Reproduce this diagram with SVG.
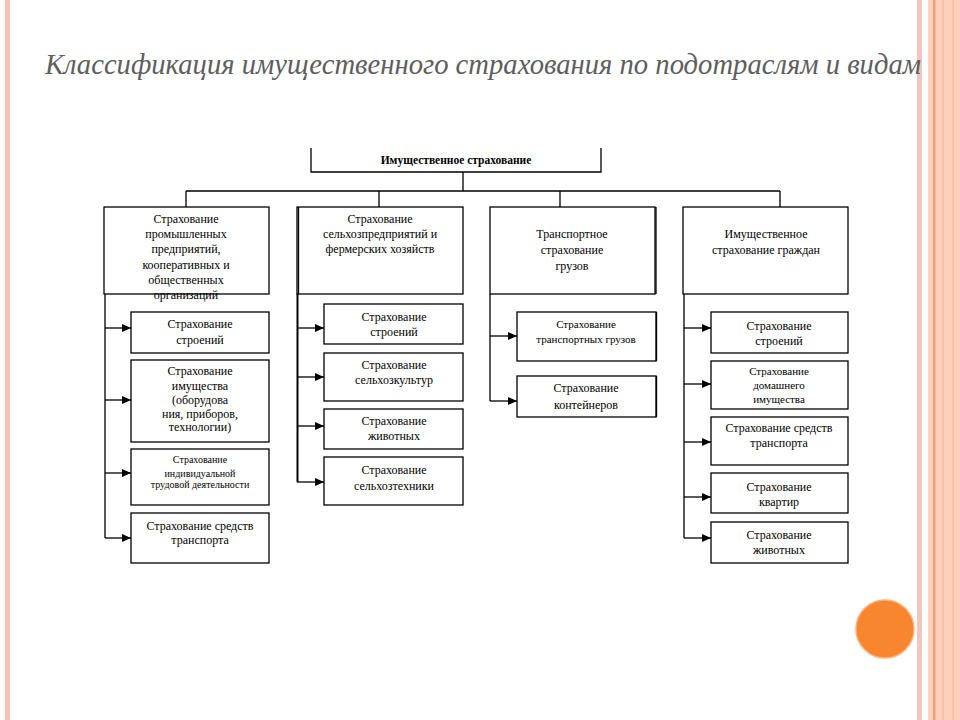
<svg xmlns="http://www.w3.org/2000/svg" width="960" height="720" viewBox="0 0 960 720">
<defs>
<marker id="ah" markerWidth="9" markerHeight="8" refX="9" refY="4" orient="auto" markerUnits="userSpaceOnUse">
<path d="M0,0 L9,4 L0,8 Z" fill="#000"/>
</marker>
<style>
.bx{fill:#fff;stroke:#000;stroke-width:1.3}
.ln{fill:none;stroke:#000;stroke-width:1.3}
.ar{fill:none;stroke:#000;stroke-width:1.3;marker-end:url(#ah)}
.t{font-family:"Liberation Serif","Times New Roman",serif;font-size:12px;fill:#000;text-anchor:middle}
.s{font-size:10px}
.b{font-weight:bold;font-size:11.5px}
.title{font-family:"Liberation Serif","Times New Roman",serif;font-style:italic;font-size:29px;fill:#5e5e5e}
</style>
</defs>
<rect width="960" height="720" fill="#fff"/>
<rect x="5" y="0" width="5" height="720" fill="#f4c3b6"/>
<rect x="917" y="0" width="5" height="720" fill="#f2c6bd"/>
<rect x="928" y="0" width="32" height="720" fill="#fdd0bb"/>
<rect x="933" y="0" width="2.5" height="720" fill="#eda07f"/>
<rect x="942.5" y="0" width="1.2" height="720" fill="#f6b79d"/>
<rect x="952.5" y="0" width="1.2" height="720" fill="#f6b79d"/>
<circle cx="885" cy="629" r="29" fill="#f7862f" stroke="#fbb27c" stroke-width="1.5"/>
<text class="title" x="45" y="74" textLength="876" lengthAdjust="spacingAndGlyphs">Классификация имущественного страхования по подотраслям и видам</text>

<g id="connectors">
<path class="ln" d="M463,172 V191 M186,191 H780 M186,191 V207 M379,191 V207 M560,191 V207 M780,191 V207"/>
<path class="ln" d="M105,294 V538"/>
<path class="ln" d="M297.5,294 V482" style="stroke-width:2"/>
<path class="ln" d="M490,294 V401"/>
<path class="ln" d="M684,294 V538"/>
<path class="ar" d="M105,328 H131"/>
<path class="ar" d="M105,400 H131"/>
<path class="ar" d="M105,473 H131"/>
<path class="ar" d="M105,538 H131"/>
<path class="ar" d="M297,328 H324"/>
<path class="ar" d="M297,377 H324"/>
<path class="ar" d="M297,426 H324"/>
<path class="ar" d="M297,482 H324"/>
<path class="ar" d="M490,336 H517"/>
<path class="ar" d="M490,401 H517"/>
<path class="ar" d="M684,328 H711"/>
<path class="ar" d="M684,384 H711"/>
<path class="ar" d="M684,442 H711"/>
<path class="ar" d="M684,497 H711"/>
<path class="ar" d="M684,538 H711"/>
</g>

<g id="root">
<rect x="311" y="148" width="290" height="24" fill="#fff"/>
<path class="ln" d="M311,148 V172 H601 V148"/>
<text class="t b" x="456" y="164">Имущественное страхование</text>
</g>

<g id="c1">
<rect class="bx" x="104" y="207" width="165" height="87"/>
<text class="t"><tspan x="186" y="223">Страхование</tspan><tspan x="186" y="238">промышленных</tspan><tspan x="186" y="253">предприятий,</tspan><tspan x="186" y="269">кооперативных и</tspan><tspan x="186" y="284">общественных</tspan><tspan x="186" y="299">организаций</tspan></text>
</g>
<g id="c2">
<rect class="bx" x="297" y="207" width="166" height="87"/>
<path class="ln" d="M298.5,207 V294" />
<text class="t"><tspan x="380" y="223">Страхование</tspan><tspan x="380" y="238">сельхозпредприятий и</tspan><tspan x="380" y="253">фермерских хозяйств</tspan></text>
</g>
<g id="c3">
<rect class="bx" x="490" y="207" width="165" height="87"/>
<path class="ln" d="M656,207 V294"/>
<text class="t"><tspan x="572" y="238">Транспортное</tspan><tspan x="572" y="254">страхование</tspan><tspan x="572" y="270">грузов</tspan></text>
</g>
<g id="c4">
<rect class="bx" x="683" y="207" width="165" height="87"/>
<text class="t"><tspan x="766" y="238">Имущественное</tspan><tspan x="766" y="254">страхование граждан</tspan></text>
</g>

<g id="c1a"><rect class="bx" x="131" y="312" width="138" height="41"/>
<text class="t"><tspan x="200" y="328">Страхование</tspan><tspan x="200" y="344">строений</tspan></text></g>
<g id="c1b"><rect class="bx" x="131" y="360" width="138" height="82"/>
<text class="t"><tspan x="200" y="375">Страхование</tspan><tspan x="200" y="390">имущества</tspan><tspan x="200" y="404">(оборудова</tspan><tspan x="200" y="418">ния, приборов,</tspan><tspan x="200" y="431">технологии)</tspan></text></g>
<g id="c1c"><rect class="bx" x="131" y="449" width="138" height="56"/>
<text class="t s"><tspan x="200" y="463">Страхование</tspan><tspan x="200" y="477">индивидуальной</tspan><tspan x="200" y="488">трудовой деятельности</tspan></text></g>
<g id="c1d"><rect class="bx" x="131" y="513" width="138" height="50"/>
<text class="t"><tspan x="200" y="530">Страхование средств</tspan><tspan x="200" y="544">транспорта</tspan></text></g>

<g id="c2a"><rect class="bx" x="324" y="304" width="139" height="40"/>
<text class="t"><tspan x="394" y="321">Страхование</tspan><tspan x="394" y="336">строений</tspan></text></g>
<g id="c2b"><rect class="bx" x="324" y="353" width="139" height="48"/>
<text class="t"><tspan x="394" y="369">Страхование</tspan><tspan x="394" y="384">сельхозкультур</tspan></text></g>
<g id="c2c"><rect class="bx" x="324" y="409" width="139" height="40"/>
<text class="t"><tspan x="394" y="425">Страхование</tspan><tspan x="394" y="440">животных</tspan></text></g>
<g id="c2d"><rect class="bx" x="324" y="457" width="139" height="48"/>
<text class="t"><tspan x="394" y="474">Страхование</tspan><tspan x="394" y="490">сельхозтехники</tspan></text></g>

<g id="c3a"><rect class="bx" x="517" y="312" width="139" height="49"/>
<path class="ln" d="M656.5,312 V361"/>
<text class="t s" style="font-size:11px"><tspan x="586" y="328">Страхование</tspan><tspan x="586" y="343">транспортных грузов</tspan></text></g>
<g id="c3b"><rect class="bx" x="517" y="376" width="139" height="41"/>
<path class="ln" d="M656.5,376 V417"/>
<text class="t"><tspan x="586" y="392">Страхование</tspan><tspan x="586" y="409">контейнеров</tspan></text></g>

<g id="c4a"><rect class="bx" x="711" y="312" width="137" height="41"/>
<text class="t"><tspan x="779" y="330">Страхование</tspan><tspan x="779" y="345">строений</tspan></text></g>
<g id="c4b"><rect class="bx" x="711" y="361" width="137" height="48"/>
<text class="t" style="font-size:11px"><tspan x="779" y="375">Страхование</tspan><tspan x="779" y="389">домашнего</tspan><tspan x="779" y="403">имущества</tspan></text></g>
<g id="c4c"><rect class="bx" x="711" y="417" width="137" height="48"/>
<text class="t"><tspan x="779" y="432">Страхование средств</tspan><tspan x="779" y="447">транспорта</tspan></text></g>
<g id="c4d"><rect class="bx" x="711" y="473" width="137" height="40"/>
<text class="t"><tspan x="779" y="491">Страхование</tspan><tspan x="779" y="506">квартир</tspan></text></g>
<g id="c4e"><rect class="bx" x="711" y="522" width="137" height="41"/>
<text class="t"><tspan x="779" y="539">Страхование</tspan><tspan x="779" y="554">животных</tspan></text></g>
</svg>
